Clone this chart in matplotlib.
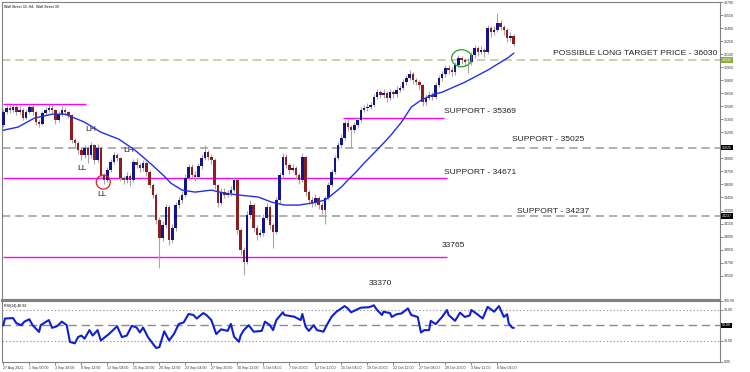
import numpy as np
import matplotlib.pyplot as plt
import matplotlib.transforms as mtransforms
from matplotlib.patches import Ellipse

plt.rcParams['font.family'] = ['Liberation Sans', 'DejaVu Sans']
plt.rcParams['lines.scale_dashes'] = False

# --- datos del grafico (H4, cada vela = 2 barras del original) ---
first_open = 35282
closes = [35432, 35478, 35455, 35490, 35432, 35455, 35363, 35432, 35490, 35432,
          35317, 35294, 35420, 35455, 35478, 35455, 35340, 35409, 35455, 35432,
          35398, 35110, 35076, 34995, 34938, 35018, 34938, 35053, 34880, 35018,
          34708, 34650, 34765, 34857, 34938, 34903, 34673, 34650, 34696, 34650,
          34857, 34823, 34788, 34846, 34742, 34593, 34478, 34190, 33983, 34133,
          34340, 33960, 34098, 34363, 34420, 34478, 34673, 34800, 34708, 34685,
          34811, 34903, 34972, 34915, 34880, 34593, 34386, 34512, 34478, 34501,
          34535, 34650, 34075, 33845, 33707, 34248, 34363, 34098, 34018, 34041,
          34213, 34340, 34133, 34052, 34420, 34708, 34915, 34823, 34765, 34788,
          34708, 34650, 34915, 34512, 34420, 34386, 34443, 34363, 34305, 34443,
          34593, 34742, 34903, 35053, 35133, 35306, 35260, 35225, 35283, 35340,
          35455, 35478, 35490, 35513, 35605, 35662, 35628, 35651, 35593, 35662,
          35639, 35685, 35708, 35777, 35823, 35869, 35800, 35777, 35743, 35547,
          35593, 35628, 35605, 35743, 35823, 35869, 35938, 35915, 35892, 35973,
          36053, 36030, 36007, 36007, 36088, 36168, 36122, 36145, 36122, 36398,
          36352, 36375, 36456, 36410, 36375, 36283, 36306, 36214]
highs = [35470, 35520, 35510, 35530, 35515, 35500, 35480, 35470, 35530, 35520,
         35450, 35345, 35450, 35490, 35525, 35510, 35470, 35440, 35500, 35480,
         35450, 35410, 35140, 35100, 35030, 35050, 35040, 35090, 35070, 35060,
         35030, 34730, 34800, 34890, 34970, 34960, 34920, 34700, 34740, 34720,
         34890, 34900, 34850, 34880, 34870, 34770, 34620, 34500, 34220, 34180,
         34380, 34360, 34140, 34400, 34470, 34520, 34720, 34840, 34830, 34760,
         34850, 34950, 35050, 35000, 34950, 34900, 34610, 34560, 34560, 34540,
         34580, 34690, 34670, 34100, 33880, 34290, 34420, 34390, 34130, 34090,
         34260, 34390, 34360, 34160, 34450, 34740, 34960, 34950, 34850, 34830,
         34810, 34730, 34960, 34930, 34540, 34450, 34490, 34470, 34400, 34470,
         34630, 34780, 34940, 35090, 35180, 35340, 35350, 35290, 35320, 35380,
         35490, 35520, 35540, 35550, 35640, 35700, 35690, 35700, 35680, 35700,
         35690, 35730, 35750, 35810, 35860, 35920, 35890, 35830, 35800, 35760,
         35640, 35670, 35660, 35780, 35860, 35910, 35980, 35970, 35950, 36010,
         36090, 36080, 36060, 36050, 36130, 36210, 36190, 36190, 36170, 36440,
         36420, 36420, 36570, 36490, 36440, 36400, 36350, 36330]
lows = [35260, 35410, 35420, 35430, 35400, 35410, 35340, 35350, 35415, 35405,
        35290, 35260, 35280, 35395, 35430, 35420, 35300, 35320, 35390, 35400,
        35370, 35080, 35030, 34950, 34880, 34900, 34850, 34910, 34840, 34860,
        34670, 34610, 34630, 34740, 34830, 34870, 34640, 34600, 34620, 34580,
        34630, 34790, 34740, 34760, 34700, 34560, 34440, 34150, 33640, 33950,
        34100, 33900, 33930, 34070, 34330, 34390, 34450, 34650, 34670, 34640,
        34660, 34780, 34880, 34880, 34840, 34550, 34340, 34360, 34440, 34450,
        34470, 34510, 34030, 33790, 33560, 33690, 34210, 34050, 33960, 33990,
        34010, 34190, 34090, 33870, 34030, 34390, 34680, 34790, 34720, 34740,
        34660, 34600, 34630, 34470, 34370, 34340, 34350, 34320, 34260, 34140,
        34420, 34570, 34720, 34880, 35020, 35110, 35220, 35030, 35190, 35250,
        35320, 35430, 35450, 35470, 35490, 35580, 35590, 35600, 35550, 35570,
        35600, 35610, 35660, 35690, 35750, 35800, 35760, 35740, 35700, 35500,
        35520, 35570, 35570, 35580, 35720, 35790, 35840, 35870, 35850, 35860,
        35950, 35990, 35960, 35880, 35980, 36060, 36080, 36100, 36070, 36100,
        36300, 36320, 36350, 36380, 36320, 36240, 36250, 36190]

# media movil (barra, valor)
ma_bars = [0, 9, 19, 30, 38, 50, 60, 71, 81, 91, 99, 103, 110, 118, 128, 136, 145,
           157, 165, 173, 182, 190, 198, 202, 208, 212, 217, 222, 228, 234, 239,
           245, 251, 257, 265, 270, 277, 284, 291, 298, 306, 311, 314]
ma_vals = [35225, 35260, 35363, 35409, 35409, 35317, 35202, 35122, 34995, 34834,
           34696, 34616, 34535, 34512, 34535, 34500, 34478, 34455, 34397, 34363,
           34363, 34386, 34420, 34478, 34570, 34650, 34742, 34846, 34960, 35076,
           35179, 35317, 35490, 35570, 35639, 35662, 35720, 35777, 35846, 35915,
           36007, 36065, 36110]

# RSI(14)
rsi_bars = [0, 1, 6, 8, 11, 13, 16, 18, 22, 23, 28, 30, 33, 36, 39, 41, 44, 46, 48,
            50, 53, 55, 58, 60, 65, 70, 73, 76, 79, 82, 84, 86, 89, 94, 96, 99, 102,
            105, 108, 111, 114, 117, 119, 123, 125, 128, 131, 134, 138, 140, 142,
            145, 146, 148, 151, 154, 159, 161, 164, 166, 168, 172, 173, 179, 183,
            184, 186, 188, 191, 193, 197, 199, 202, 205, 208, 210, 212, 214, 217,
            220, 225, 228, 230, 233, 234, 238, 239, 242, 245, 249, 251, 255, 257,
            259, 262, 263, 266, 270, 273, 274, 278, 281, 284, 287, 288, 291, 295,
            298, 302, 305, 308, 310, 311, 313, 314]
rsi_vals = [50.4, 59, 59.5, 53, 50.4, 55, 58, 50.4, 41.7, 50.4, 57, 47, 49, 55, 50.4,
            28.7, 27, 35, 37, 33, 44, 37, 44, 30.6, 39, 49, 35, 37, 49.5, 47.4, 41,
            47.4, 35, 21, 22, 42.5, 30.6, 39, 52, 54, 64.8, 63.5, 59, 66, 63.5, 57,
            39, 45, 43, 52, 35.5, 29, 37, 44, 50.4, 42, 43, 55, 50.4, 44, 57, 67,
            63.5, 61.3, 57, 64.8, 48.3, 43, 50.4, 44, 42, 50.4, 61.3, 67.8, 72, 75,
            72, 67, 70, 73, 73.5, 76, 70, 63.5, 67.8, 65.9, 61, 64.5, 65.5, 72,
            63.5, 61, 41, 44, 44, 56, 51.7, 61, 70, 63.5, 56, 66.5, 61, 63, 70,
            65.5, 59, 74, 67.8, 75, 61, 64.5, 52.6, 47.4, 46.92]

date_labels = ["27 Aug 2021", "1 Sep 00:00", "3 Sep 16:00", "8 Sep 12:00",
               "13 Sep 04:00", "15 Sep 20:00", "20 Sep 12:00", "23 Sep 04:00",
               "27 Sep 20:00", "30 Sep 12:00", "5 Oct 04:00", "7 Oct 20:00",
               "12 Oct 12:00", "15 Oct 04:00", "19 Oct 20:00", "22 Oct 12:00",
               "27 Oct 04:00", "29 Oct 20:00", "3 Nov 12:00", "8 Nov 04:00"]
price_ticks = list(range(33550, 36701, 150))

target = 36030
supports = [35369, 35025, 34671, 34237]
old_high = 35524
low_level = 33765
low_label = 33370

# --- figura ---
fig = plt.figure(figsize=(7.5, 3.72), dpi=100)
ax = fig.add_axes([0.0027, 0.1935, 0.9573, 0.8011])
rax = fig.add_axes([0.0027, 0.0269, 0.9573, 0.1640])

opens = [first_open] + closes[:-1]
x = np.arange(len(closes)) * 2
o = np.array(opens)
c = np.array(closes)
up = c >= o
ax.vlines(x, lows, highs, color='#a6a6a6', lw=0.8, zorder=2)
body_lo = np.minimum(o, c)
body_h = np.maximum(np.abs(c - o), 6)
ax.bar(x, body_h, bottom=body_lo, width=1.5,
       color=np.where(up, '#14148a', '#8b1e1e'), linewidth=0, zorder=3)
ax.plot(ma_bars, ma_vals, color='#2030e8', lw=1.0, zorder=4)

# lineas horizontales
ax.axhline(target, color='#c3cfa2', lw=1.3, dashes=(6, 3.5), zorder=1)
for lvl in (supports[1], supports[3]):
    ax.axhline(lvl, color='#a3a3a3', lw=1.2, dashes=(6, 3.5), zorder=1)
mag = '#ff00ff'
ax.hlines(old_high, 0, 51, color=mag, lw=1.0, zorder=1)
ax.hlines(supports[0], 209, 271, color=mag, lw=1.0, zorder=1)
ax.hlines(supports[2], 0, 273, color=mag, lw=1.0, zorder=1)
ax.hlines(low_level, 0, 273, color=mag, lw=1.0, zorder=1)

tc = '#222222'
fs = 6.1
ax.text(338.5, 36110, f"POSSIBLE LONG TARGET PRICE - {target}", fontsize=fs, color=tc, va='center')
ax.text(271.4, 35444, f"SUPPORT - {supports[0]}", fontsize=fs, color=tc, va='center')
ax.text(313, 35121, f"SUPPORT - {supports[1]}", fontsize=fs, color=tc, va='center')
ax.text(271.4, 34742, f"SUPPORT - {supports[2]}", fontsize=fs, color=tc, va='center')
ax.text(316, 34294, f"SUPPORT - {supports[3]}", fontsize=fs, color=tc, va='center')
ax.text(270, 33902, f"{low_level}", fontsize=fs, color=tc, va='center')
ax.text(224.6, 33465, f"{low_label}", fontsize=fs, color=tc, va='center')
ax.text(50.5, 35237, "LH", fontsize=fs, color=tc, va='center')
ax.text(45.5, 34788, "LL", fontsize=fs, color=tc, va='center')
ax.text(74, 34995, "LH", fontsize=fs, color=tc, va='center')
ax.text(58, 34489, "LL", fontsize=fs, color=tc, va='center')

ax.add_patch(Ellipse((61.5, 34627), 8.6, 161, fill=False, ec='#e02020', lw=0.9, zorder=5))
ax.add_patch(Ellipse((282, 36053), 12.3, 196, fill=False, ec='#2a9a2a', lw=0.9, zorder=5))

ax.text(0.003, 0.99, "Wall Street 30, H4:  Wall Street 30", transform=ax.transAxes,
        fontsize=2.6, va='top', ha='left', color='black')

ax.set_xlim(-0.8, 441)
ax.set_ylim(33270, 36697)
ax.yaxis.tick_right()
ax.set_yticks(price_ticks)
# la etiqueta 35050 queda tapada por el recuadro de 35025
ax.set_yticklabels(['' if abs(p - supports[1]) < 50 else str(p) for p in price_ticks])
ax.tick_params(axis='y', labelsize=2.6, length=2, width=0.4, pad=1, colors='#333333')
ax.tick_params(axis='x', bottom=False, labelbottom=False)

# etiquetas de precio en el eje derecho
trans = mtransforms.blended_transform_factory(ax.transAxes, ax.transData)
ax.text(1.003, target, str(target), transform=trans, fontsize=2.6, color='#f0f5e0', va='center',
        bbox=dict(boxstyle='square,pad=0.25', fc='#8cb040', ec='none'), clip_on=False)
for lvl in (supports[1], supports[3]):
    ax.text(1.003, lvl, str(lvl), transform=trans, fontsize=2.6, color='white', va='center',
            bbox=dict(boxstyle='square,pad=0.25', fc='black', ec='none'), clip_on=False)

# --- RSI ---
rax.plot(rsi_bars, rsi_vals, color='#1020d0', lw=1.5, zorder=3)
rax.axhline(70, color='#9a9a9a', lw=0.8, dashes=(1, 1.5))
rax.axhline(30, color='#9a9a9a', lw=0.8, dashes=(1, 1.5))
rax.axhline(50, color='#8a8a8a', lw=1.0, dashes=(6, 3.5))
rax.set_xlim(-0.8, 441)
rax.set_ylim(2.9, 81.6)
rax.yaxis.tick_right()
rax.set_yticks([2.9, 30, 70, 81.6])
rax.set_yticklabels(['0.00', '30.00', '70.00', '100.00'])
rax.tick_params(axis='y', labelsize=2.6, length=2, width=0.4, pad=1, colors='#333333')
rtrans = mtransforms.blended_transform_factory(rax.transAxes, rax.transData)
rax.text(1.003, 50, "50.00", transform=rtrans, fontsize=2.6, color='white', va='center',
         bbox=dict(boxstyle='square,pad=0.25', fc='black', ec='none'), clip_on=False)
rax.text(0.003, 0.95, f"RSI(14) {rsi_vals[-1]:.2f}", transform=rax.transAxes,
         fontsize=2.6, va='top', ha='left', color='black')

rax.set_xticks(np.arange(len(date_labels)) * 16)
rax.set_xticklabels(date_labels)
for lab in rax.get_xticklabels():
    lab.set_horizontalalignment('left')
rax.tick_params(axis='x', labelsize=2.6, length=2, width=0.4, pad=1, colors='#333333')

for a in (ax, rax):
    for s in a.spines.values():
        s.set_color('#808080')
        s.set_linewidth(0.8)
ax.spines['bottom'].set_linewidth(1.5)
rax.spines['top'].set_linewidth(1.5)

fig.savefig('out.png', dpi=100, facecolor='white')
